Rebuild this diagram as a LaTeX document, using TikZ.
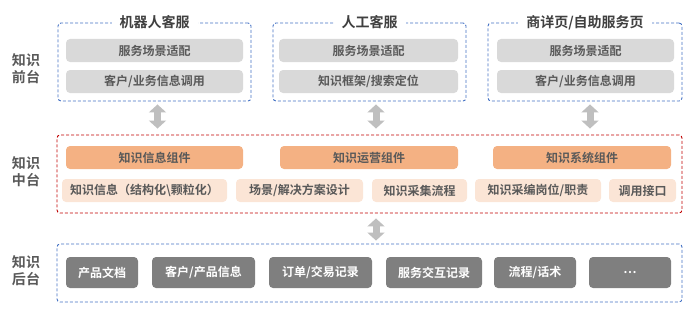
\documentclass[tikz,border=0pt]{standalone}
\usepackage{fontspec}
\setmainfont{Noto Sans CJK SC}[BoldFont={Noto Sans CJK SC Bold}]
\usetikzlibrary{positioning,arrows.meta,calc}
\definecolor{layerblue}{HTML}{4472C4}
\definecolor{layerred}{HTML}{C00000}
\definecolor{bargray}{HTML}{D9D9D9}
\definecolor{barorange}{HTML}{F4B183}
\definecolor{barpeach}{HTML}{FBE5D6}
\definecolor{bardark}{HTML}{7F7F7F}
\definecolor{arrowgray}{HTML}{BFBFBF}
\definecolor{textgray}{HTML}{595959}

\begin{document}
\begin{tikzpicture}[x=1pt,y=-1pt,
    every node/.style={font=\bfseries\fontsize{12}{14}\selectfont, text=textgray, inner sep=0pt},
    layerbox/.style={draw, line width=0.9pt, dash pattern=on 3pt off 2pt, rounded corners=3pt, minimum height=#1},
    layertitle/.style={fill=white, inner xsep=8pt, font=\bfseries\fontsize{14}{16}\selectfont, text=black!75},
    layerlabel/.style={align=center, font=\bfseries\fontsize{14}{17}\selectfont},
    graybar/.style={fill=bargray, rounded corners=4pt, minimum height=23pt, minimum width=#1},
    orangebar/.style={fill=barorange, rounded corners=4pt, minimum height=23pt, minimum width=#1},
    peachbar/.style={fill=barpeach, rounded corners=4pt, minimum height=23pt, minimum width=#1},
    darkbar/.style={fill=bardark, text=white, rounded corners=4pt, minimum height=31pt, minimum width=#1},
    dblarrow/.style={draw=arrowgray, line width=7pt, {Triangle[width=17pt,length=8pt]}-{Triangle[width=17pt,length=8pt]}}]
  \useasboundingbox (0,0) rectangle (692,313);

  % front end
  \node[layerlabel] (frontlabel) at (26,68.5) {知识\\前台};
  \node[layerbox=78pt, draw=layerblue, minimum width=193pt] (front1) at (154.5,62) {};
  \node[layerbox=78pt, draw=layerblue, minimum width=193pt] (front2) at (369.5,62) {};
  \node[layerbox=78pt, draw=layerblue, minimum width=194pt] (front3) at (585,62) {};
  \node[layertitle] (title1) at (front1.north) {机器人客服};
  \node[layertitle] (title2) at (front2.north) {人工客服};
  \node[layertitle] (title3) at (front3.north) {商详页/自助服务页};
  \node[graybar=177pt] (scene1) at (154.5,50.5) {服务场景适配};
  \node[graybar=177pt] (call1) at (154.5,81.5) {客户/业务信息调用};
  \node[graybar=179pt] (scene2) at (368.5,50.5) {服务场景适配};
  \node[graybar=179pt] (search2) at (368.5,81.5) {知识框架/搜索定位};
  \node[graybar=177pt] (scene3) at (585.5,50.5) {服务场景适配};
  \node[graybar=177pt] (call3) at (585.5,81.5) {客户/业务信息调用};

  % middle
  \node[layerlabel] (midlabel) at (26,171.5) {知识\\中台};
  \node[layerbox=78pt, draw=layerred, minimum width=625pt] (middle) at (369.5,174) {};
  \node[orangebar=177pt] (info) at (154.5,157.5) {知识信息组件};
  \node[orangebar=178pt] (ops) at (369,157.5) {知识运营组件};
  \node[orangebar=178pt] (sys) at (582,157.5) {知识系统组件};
  \node[peachbar=165pt] (infodetail) at (144.5,190.5) {知识信息（结构化\textbackslash 颗粒化）};
  \node[peachbar=127pt] (design) at (299.5,190.5) {场景/解决方案设计};
  \node[peachbar=95pt] (collect) at (419.5,190.5) {知识采集流程};
  \node[peachbar=126pt] (roles) at (538,190.5) {知识采编岗位/职责};
  \node[peachbar=67pt] (api) at (642.5,190.5) {调用接口};

  % back end
  \node[layerlabel] (backlabel) at (26,271) {知识\\后台};
  \node[layerbox=58pt, draw=layerblue, minimum width=625pt] (back) at (369.5,273) {};
  \node[darkbar=72pt] (docs) at (102,272.5) {产品文档};
  \node[darkbar=103pt] (custinfo) at (203.5,272.5) {客户/产品信息};
  \node[darkbar=103pt] (orders) at (320.5,272.5) {订单/交易记录};
  \node[darkbar=96pt] (chats) at (434,272.5) {服务交互记录};
  \node[darkbar=82pt] (scripts) at (535,272.5) {流程/话术};
  \node[darkbar=82pt] (more) at (630,272.5) {…};

  \draw[dblarrow, shorten <=3pt, shorten >=6pt] ([xshift=3pt]front1.south) -- ([xshift=3pt]front1.south |- middle.north);
  \draw[dblarrow, shorten <=3pt, shorten >=6pt] ([xshift=6.5pt]front2.south) -- ([xshift=6.5pt]front2.south |- middle.north);
  \draw[dblarrow, shorten <=3pt, shorten >=6pt] ([xshift=5pt]front3.south) -- ([xshift=5pt]front3.south |- middle.north);
  \draw[dblarrow, shorten <=5pt, shorten >=3pt] ([xshift=6.5pt]middle.south) -- ([xshift=6.5pt]middle.south |- back.north);
\end{tikzpicture}
\end{document}
